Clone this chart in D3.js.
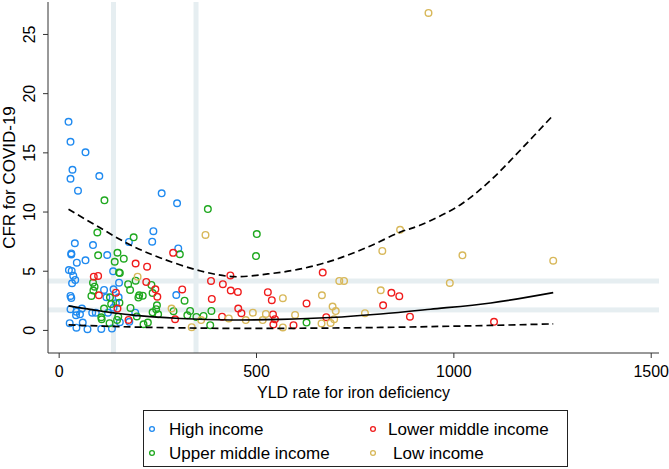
<!DOCTYPE html>
<html><head><meta charset="utf-8">
<script src="https://cdn.jsdelivr.net/npm/d3@7"></script>
<style>
html,body{margin:0;padding:0;background:#fff;}
svg{display:block;font-family:"Liberation Sans",Arial,sans-serif;}
</style></head>
<body><svg id="c" width="669" height="469"></svg>
<script>
// ---- data ----
const highX = [25,30,68,35,30,103,49,261,300,240,237,178,41,87,303,32,32,123,46,68,26,33,37,42,34,138,153,115,139,121,152,30,32,298,145,139,30,59,45,54,44,85,94,125,194,28,61,45,73,108,135,155,179];
const highY = [17.58,15.89,15.0,13.53,12.77,13.0,11.76,11.54,10.7,8.34,7.45,7.43,7.32,7.17,6.88,6.46,6.37,6.33,5.68,5.88,5.06,4.98,4.58,4.22,3.94,4.95,3.99,3.38,3.43,2.76,2.76,2.87,2.70,2.95,2.25,1.88,1.75,1.80,1.54,1.32,1.24,1.46,1.46,1.46,1.46,0.57,0.62,0.19,0.06,0.08,0.11,0.65,0.68];
const upperX = [116,378,502,500,98,190,307,149,100,165,142,153,155,87,91,176,195,181,88,83,130,202,204,213,238,235,133,154,115,182,108,109,151,148,129,319,249,247,238,252,291,333,326,349,367,387,384,226,215,198,628];
const upperY = [10.95,10.21,8.1,6.24,8.23,7.82,6.39,6.52,6.30,6.02,5.76,4.84,4.81,3.99,3.65,3.86,4.16,3.38,3.32,2.87,2.76,2.73,2.93,2.89,3.12,3.80,2.19,2.30,1.80,1.86,1.07,0.90,1.12,0.84,0.57,2.47,2.08,1.75,1.49,1.32,1.58,1.60,1.24,1.10,1.18,1.60,0.40,0.62,0.48,1.14,0.62];
const lowerX = [290,195,224,89,100,222,245,250,313,102,145,149,177,295,386,388,416,414,435,436,454,455,463,530,540,543,548,544,595,628,669,678,822,843,863,890,1103];
const lowerY = [6.51,5.61,5.34,4.50,4.56,4.05,3.43,2.80,3.42,2.93,3.15,1.80,0.84,0.90,4.14,2.62,3.86,1.12,4.60,3.33,3.21,1.81,1.41,3.19,2.51,1.31,0.91,0.45,0.40,2.24,4.84,1.08,2.08,3.14,2.85,1.12,0.68];
const lowX = [937,372,865,820,1023,1253,991,711,723,200,816,568,667,286,337,361,431,492,474,525,517,568,599,666,689,698,694,702,776];
const lowY = [26.78,8.02,8.46,6.67,6.30,5.85,3.97,4.14,4.14,4.50,3.35,2.68,2.93,1.81,0.23,0.83,0.97,1.46,0.83,1.35,0.83,0.21,1.27,0.55,0.59,0.91,1.97,1.59,1.41];

const fitX = [25,106,182,309,436,562,689,816,942,1095,1253];
const fitY = [2.03,1.60,1.27,0.97,0.84,0.89,1.05,1.35,1.75,2.28,3.15];
const ciHiX = [25,106,182,258,360,443,530,613,697,783,866,917,1019,1095,1170,1253];
const ciHiY = [10.19,8.6,7.17,6.08,4.98,4.5,4.73,5.15,5.9,7.0,8.27,8.86,10.6,12.66,15.2,18.14];
const ciLoX = [25,182,309,436,613,816,942,1095,1253];
const ciLoY = [0.42,0.25,0.17,0.13,0.14,0.21,0.28,0.38,0.51];

const refX = [139, 348];
const refY = [4.13, 1.69];

const xTicks = [0, 500, 1000, 1500];
const yTicks = [0, 5, 10, 15, 20, 25];
const groups = ["High income", "Upper middle income", "Lower middle income", "Low income"];
const colors = ["#1f8af0", "#1fa81f", "#f01c1c", "#d8b85a"];

// ---- chart ----
const svg = d3.select("#c");
const L = 48, R = 659, T = 2, B = 353;
const x = d3.scaleLinear().domain([-27, 1521]).range([L, R]);
const y = d3.scaleLinear().domain([-1.95, 27.7]).range([B, T]);

// reference bands
const band = "#e6eef1";
svg.selectAll("rect.vb").data(refX).join("rect").attr("class","vb")
  .attr("x", d => x(d) - 2.5).attr("y", T).attr("width", 5).attr("height", B - T).attr("fill", band);
svg.selectAll("rect.hb").data(refY).join("rect").attr("class","hb")
  .attr("x", L).attr("y", d => y(d) - 2.5).attr("width", R - L).attr("height", 5).attr("fill", band);

// points
const sets = [[highX, highY], [upperX, upperY], [lowerX, lowerY], [lowX, lowY]];
sets.forEach((s, gi) => {
  const pts = s[0].map((v, i) => [v, s[1][i]]);
  svg.append("g").selectAll("circle").data(pts).join("circle")
    .attr("cx", d => x(d[0])).attr("cy", d => y(d[1])).attr("r", 3.3)
    .attr("fill", "none").attr("stroke", colors[gi]).attr("stroke-width", 1.4);
});

// fitted lines
const line = d3.line().x(d => x(d[0])).y(d => y(d[1])).curve(d3.curveCatmullRom);
const mk = (a, b) => a.map((v, i) => [v, b[i]]);
svg.append("path").attr("d", line(mk(fitX, fitY))).attr("fill","none").attr("stroke","#000").attr("stroke-width",1.6);
svg.append("path").attr("d", line(mk(ciHiX, ciHiY))).attr("fill","none").attr("stroke","#000").attr("stroke-width",1.7).attr("stroke-dasharray","7,4");
svg.append("path").attr("d", line(mk(ciLoX, ciLoY))).attr("fill","none").attr("stroke","#000").attr("stroke-width",1.7).attr("stroke-dasharray","7,4");

// axes
const xa = svg.append("g").attr("transform", `translate(0,${B})`)
  .call(d3.axisBottom(x).tickValues(xTicks).tickSize(5).tickPadding(8).tickFormat(d3.format("d")));
xa.select(".domain").attr("d", `M${L},0H${R}`);
const ya = svg.append("g").attr("transform", `translate(${L},0)`)
  .call(d3.axisLeft(y).tickValues(yTicks).tickSize(5).tickFormat(d3.format("d")));
ya.select(".domain").attr("d", `M0,${T}V${B}`);
[xa, ya].forEach(g => {
  g.selectAll("text").attr("font-size", 16).attr("fill", "#000").attr("font-family", '"Liberation Sans",Arial,sans-serif');
  g.selectAll("line,path").attr("stroke", "#333");
});
ya.selectAll(".tick text").attr("text-anchor","middle").attr("x", null).attr("dy", null)
  .attr("transform", "translate(-13,0) rotate(-90)").attr("y", 0);

svg.append("text").attr("x", (L + R) / 2).attr("y", 398).attr("text-anchor","middle")
  .attr("font-size", 16).text("YLD rate for iron deficiency");
svg.append("text").attr("transform", `translate(15,${(T + B) / 2}) rotate(-90)`).attr("text-anchor","middle")
  .attr("font-size", 17).text("CFR for COVID-19");

// legend
svg.append("rect").attr("x",143.5).attr("y",410.5).attr("width",424).attr("height",56)
  .attr("fill","#fff").attr("stroke","#222").attr("stroke-width",1);
const lpos = [[152,429,169],[152,453,169],[373,429,388],[373,453,393]];
groups.forEach((g, i) => {
  const p = lpos[i];
  svg.append("circle").attr("cx", p[0]).attr("cy", p[1]).attr("r", 2.4)
    .attr("fill","none").attr("stroke", colors[i]).attr("stroke-width", 1.3);
  svg.append("text").attr("x", p[2]).attr("y", p[1] + 6).attr("font-size", 17).text(g);
});
</script></body></html>
